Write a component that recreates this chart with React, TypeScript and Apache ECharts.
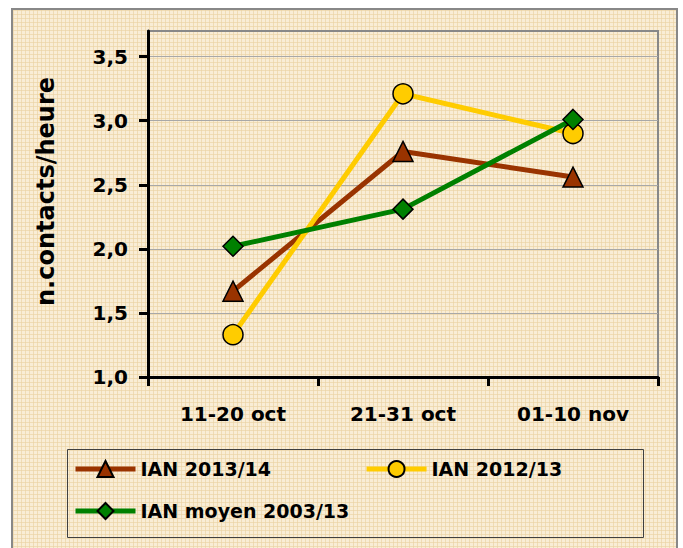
import React, { useEffect, useRef } from "react";
import * as echarts from "echarts";

const categories = ["11-20 oct", "21-31 oct", "01-10 nov"];
const seriesNames = ["IAN 2013/14", "IAN 2012/13", "IAN moyen 2003/13"];
const ian1314 = [1.67, 2.76, 2.56];
const ian1213 = [1.33, 3.21, 2.9];
const ianMoyen = [2.02, 2.31, 3.01];
const yTicks = [1, 1.5, 2, 2.5, 3, 3.5];
const yAxisTitle = "n.contacts/heure";

const FONT = "DejaVu Sans";

export default function App() {
  const ref = useRef<HTMLDivElement>(null);
  useEffect(() => {
    if (!ref.current) return;
    const chart = echarts.init(ref.current, undefined, { renderer: "svg" });
    const mk = (name: string, data: number[], color: string, symbol: string) => ({
      name,
      type: "line",
      data,
      symbol,
      symbolSize: 20,
      lineStyle: { color, width: 5 },
      itemStyle: { color, borderColor: "#000", borderWidth: 1.5 },
      z: 3,
    });
    const legendCommon = {
      left: 73,
      orient: "horizontal",
      itemWidth: 60,
      itemHeight: 20,
      itemGap: 93,
      padding: 0,
      lineStyle: { width: 5 },
      textStyle: { fontFamily: FONT, fontWeight: "bold", fontSize: 19, color: "#000", lineHeight: 20 },
    };
    chart.setOption({
      animation: false,
      backgroundColor: "transparent",
      grid: {
        left: 148,
        right: 25,
        top: 31,
        bottom: 171,
        show: true,
        borderColor: "#888",
        borderWidth: 2,
        backgroundColor: "transparent",
      },
      xAxis: {
        type: "category",
        data: categories,
        boundaryGap: true,
        axisLine: { lineStyle: { color: "#000", width: 3 } },
        axisTick: { show: true, length: 9, lineStyle: { color: "#000", width: 3 } },
        axisLabel: { fontFamily: FONT, fontWeight: "bold", fontSize: 20, color: "#000", margin: 27 },
      },
      yAxis: {
        type: "value",
        min: 1,
        max: 3.7,
        interval: 0.5,
        axisLine: { show: true, lineStyle: { color: "#000", width: 3 } },
        axisTick: { show: true, length: 9, lineStyle: { color: "#000", width: 3 }, customValues: yTicks },
        axisLabel: {
          fontFamily: FONT,
          fontWeight: "bold",
          fontSize: 20,
          color: "#000",
          margin: 20,
          customValues: yTicks,
          formatter: (v: number) => v.toFixed(1).replace(".", ","),
        },
        splitLine: { show: true, lineStyle: { color: "#a8a8a8", width: 1 } },
      },
      legend: [
        { ...legendCommon, top: 459, data: [seriesNames[0], seriesNames[1]] },
        { ...legendCommon, top: 501, data: [seriesNames[2]] },
      ],
      graphic: [
        {
          type: "rect",
          shape: { x: 67.5, y: 449.5, width: 576, height: 88 },
          style: { fill: "none", stroke: "#404040", lineWidth: 1 },
        },
        {
          type: "text",
          x: 45.5,
          y: 191.5,
          rotation: Math.PI / 2,
          style: {
            text: yAxisTitle,
            fontFamily: FONT,
            fontWeight: "bold",
            fontSize: 24,
            fill: "#000",
            align: "center",
            verticalAlign: "middle",
          },
        },
      ],
      series: [
        mk(seriesNames[0], ian1314, "#993300", "triangle"),
        mk(seriesNames[1], ian1213, "#FFCC00", "circle"),
        mk(seriesNames[2], ianMoyen, "#008000", "diamond"),
      ],
    });
    return () => chart.dispose();
  }, []);

  return (
    <div style={{ position: "fixed", left: 0, top: 0, width: 683, height: 548, background: "#fff", overflow: "hidden" }}>
      <div
        style={{
          position: "absolute",
          left: 11,
          top: 8,
          width: 667,
          height: 600,
          boxSizing: "border-box",
          border: "2px solid #888",
          backgroundColor: "#F9EDD6",
          backgroundImage:
            "linear-gradient(to right, rgba(236,212,166,0.7) 1px, transparent 1px), linear-gradient(to bottom, rgba(236,212,166,0.7) 1px, transparent 1px)",
          backgroundSize: "4px 4px",
        }}
      />
      <div ref={ref} style={{ position: "absolute", left: 0, top: 0, width: 683, height: 548 }} />
    </div>
  );
}
